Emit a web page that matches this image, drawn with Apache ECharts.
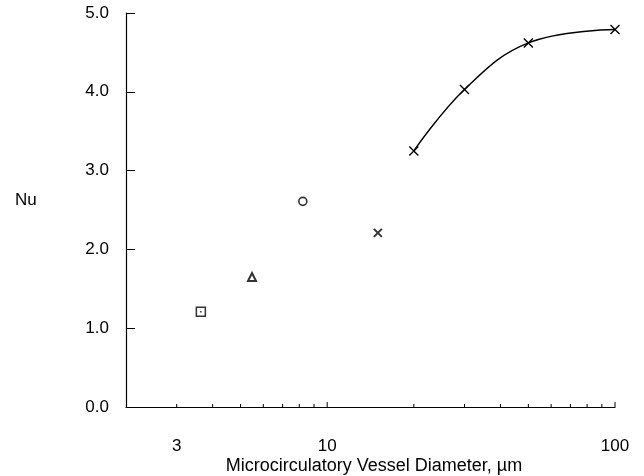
<!DOCTYPE html>
<html>
<head>
<meta charset="utf-8">
<script src="https://cdn.jsdelivr.net/npm/echarts@6/dist/echarts.min.js"></script>
<style>
html,body{margin:0;padding:0;background:#fff;}
#chart{width:644px;height:476px;}
</style>
</head>
<body>
<div id="chart"></div>
<script>
// ---- data ----
const squarePts   = [[3.64, 1.21]];
const trianglePts = [[5.48, 1.65]];
const circlePts   = [[8.23, 2.61]];
const crossPts    = [[15.0, 2.21]];
const curveDiameter = [20, 30, 50, 100];
const curveNu       = [3.25, 4.03, 4.62, 4.79];

const minorTickValues = [3, 4, 5, 6, 7, 8, 9, 20, 30, 40, 50, 60, 70, 80, 90];
const majorTickValues = [10, 100];
const xTickLabelValues = [3, 10, 100];
const xTickLabels = ['3', '10', '100'];

const xTitle = 'Microcirculatory Vessel Diameter, \u00b5m';
const yTitle = 'Nu';

const FONT = '"Liberation Sans", Arial, Helvetica, sans-serif';
const crossPath = 'path://M0,0L10,10M10,0L0,10';

const chart = echarts.init(document.getElementById('chart'), null, {renderer: 'canvas'});

const curveData = curveDiameter.map((d, i) => [d, curveNu[i]]);

function tickRenderer(len) {
  return function (params, api) {
    const p = api.coord([api.value(0), 0]);
    return {
      type: 'line',
      shape: {x1: p[0], y1: p[1], x2: p[0], y2: p[1] - len},
      style: {stroke: '#000', lineWidth: 1}
    };
  };
}

const option = {
  backgroundColor: '#fff',
  animation: false,
  grid: {left: 126, right: 29, top: 13, bottom: 69},
  xAxis: {
    type: 'log',
    logBase: 10,
    min: 2,
    max: 100,
    axisLine: {show: true, onZero: false, lineStyle: {color: '#000', width: 1.2}},
    axisTick: {show: false},
    axisLabel: {show: false},
    splitLine: {show: false},
    minorTick: {show: false}
  },
  yAxis: {
    type: 'value',
    min: 0,
    max: 5,
    interval: 1,
    axisLine: {show: true, lineStyle: {color: '#000', width: 1.2}},
    axisTick: {show: true, inside: true, length: 9, lineStyle: {color: '#000', width: 1}},
    axisLabel: {
      color: '#000', fontSize: 17, fontFamily: FONT, margin: 17,
      formatter: v => v.toFixed(1)
    },
    splitLine: {show: false}
  },
  graphic: [
    {type: 'text', left: 15, top: 192, style: {text: yTitle, fill: '#000', font: '17px ' + FONT}},
    {type: 'text', x: 374, y: 466, style: {text: xTitle, fill: '#000', font: '18px ' + FONT, align: 'center', verticalAlign: 'middle'}}
  ],
  series: [
    {
      type: 'custom', name: 'minorTicks', clip: false, silent: true,
      data: minorTickValues.map(v => [v, 0]),
      renderItem: tickRenderer(3)
    },
    {
      type: 'custom', name: 'majorTicks', clip: false, silent: true,
      data: majorTickValues.map(v => [v, 0]),
      renderItem: tickRenderer(5)
    },
    {
      type: 'custom', name: 'xLabels', clip: false, silent: true,
      data: xTickLabelValues.map((v, i) => [v, 0, i]),
      renderItem: function (params, api) {
        const p = api.coord([api.value(0), 0]);
        return {
          type: 'text', x: p[0], y: p[1] + 39,
          style: {text: xTickLabels[api.value(2)], fill: '#000', font: '17px ' + FONT, align: 'center', verticalAlign: 'middle'}
        };
      }
    },
    {
      type: 'line', name: 'curve', data: curveData, smooth: 0.4,
      symbol: crossPath, symbolSize: 9, showSymbol: true,
      lineStyle: {color: '#000', width: 1.4},
      itemStyle: {color: '#000', borderColor: '#000', borderWidth: 1.4}
    },
    {
      type: 'scatter', name: 'cross', data: crossPts, symbol: crossPath, symbolSize: 8,
      itemStyle: {color: '#000', borderColor: '#000', borderWidth: 2}
    },
    {
      type: 'scatter', name: 'square', data: squarePts, symbol: 'rect', symbolSize: 9,
      itemStyle: {color: '#fff', borderColor: '#000', borderWidth: 1.5}
    },
    {
      type: 'scatter', name: 'squareDot', data: squarePts, symbol: 'rect', symbolSize: 1.5,
      itemStyle: {color: '#000'}
    },
    {
      type: 'scatter', name: 'triangle', data: trianglePts, symbol: 'triangle', symbolSize: 8,
      itemStyle: {color: '#fff', borderColor: '#000', borderWidth: 2}
    },
    {
      type: 'scatter', name: 'circle', data: circlePts, symbol: 'circle', symbolSize: 8,
      itemStyle: {color: '#fff', borderColor: '#000', borderWidth: 1.6}
    }
  ]
};
chart.setOption(option);
</script>
</body>
</html>
